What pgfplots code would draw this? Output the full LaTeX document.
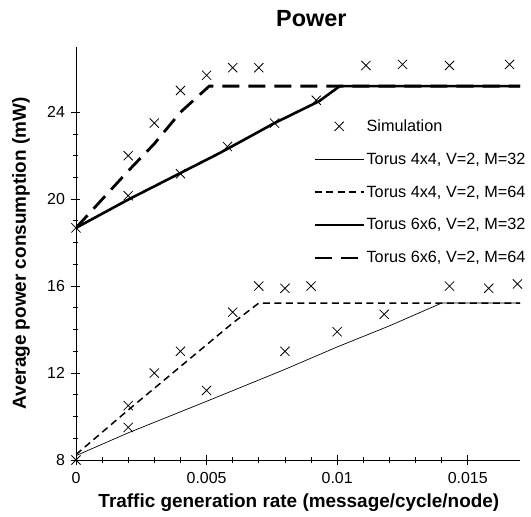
\documentclass[border=0pt]{standalone}
\usepackage{fontspec}
\setmainfont{Liberation Sans}
\usepackage{pgfplots}
\pgfplotsset{compat=1.18}
\begin{document}
\begin{tikzpicture}
\begin{axis}[
  at={(0,0)}, anchor=south west,
  scale only axis, width=444bp, height=413bp,
  xmin=0, xmax=0.017, ymin=8, ymax=27,
  axis lines=left, axis line style={-, line width=0.8bp},
  xtick={0,0.005,0.01,0.015}, xticklabels={0,0.005,0.01,0.015},
  ytick={8,12,16,20,24},
  minor x tick num=4, minor y tick num=3,
  tick align=center, major tick length=9bp, minor tick length=5bp,
  tick style={line width=0.8bp, black},
  /pgf/number format/assume math mode=true,
  ticklabel style={font=\fontsize{16}{19}\selectfont},
  xticklabel style={yshift=-4bp},
  yticklabel style={xshift=-3bp},
  scaled x ticks=false,
  title={Power},
  title style={font=\bfseries\fontsize{23.5}{28}\selectfont, at={(axis description cs:0.53,1.054)}, anchor=center},
  xlabel={Traffic generation rate (message/cycle/node)},
  ylabel={Average power consumption (mW)},
  label style={font=\bfseries\fontsize{19}{22}\selectfont},
  x label style={at={(axis description cs:0.502,-0.104)}, anchor=center},
  y label style={at={(axis description cs:-0.124,0.5)}, anchor=center},
  legend style={draw=none, fill=none, at={(axis description cs:0.534,0.828)}, anchor=north west,
    font=\fontsize{16.3}{19}\selectfont, row sep=17bp, inner sep=0pt, nodes={inner sep=1.5bp}},
  legend cell align=left,
  legend image code/.code={\draw[mark repeat=2,mark phase=2,#1] plot coordinates {(0bp,0bp) (24.5bp,0bp) (49bp,0bp)};},
]
\addplot[only marks, mark=x, mark size=6.5bp, mark options={line width=0.8bp}, black] coordinates {
 (0,18.68) (0.002,20.16) (0.002,22.0) (0.003,23.5) (0.004,25.0) (0.004,21.17)
 (0.005,25.7) (0.0058,22.42) (0.006,26.05) (0.007,26.05) (0.0076,23.5) (0.0092,24.55)
 (0.0111,26.15) (0.0125,26.2) (0.0143,26.15) (0.0166,26.2)
 (0,8.0) (0.002,9.5) (0.002,10.5) (0.003,12.0) (0.004,13.0) (0.005,11.2)
 (0.006,14.8) (0.007,16.0) (0.008,15.9) (0.008,13.0) (0.009,16.0) (0.01,13.9)
 (0.0118,14.7) (0.0143,16.0) (0.0158,15.9) (0.0169,16.1)
};
\addlegendentry{Simulation}
\addplot[black, line width=0.7bp, mark=none] coordinates {
 (0,8.2) (0.002,9.25) (0.005,10.7) (0.008,12.17) (0.010,13.2) (0.012,14.17) (0.014,15.22) (0.017,15.22)
};
\addlegendentry{Torus 4x4, V=2, M=32}
\addplot[black, line width=1.5bp, dash pattern=on 7bp off 4.5bp, mark=none] coordinates {
 (0,8.25) (0.002,10.3) (0.004,12.3) (0.006,14.3) (0.007,15.22) (0.017,15.22)
};
\addlegendentry{Torus 4x4, V=2, M=64}
\addplot[black, line width=2.6bp, mark=none] coordinates {
 (0,18.68) (0.002,19.98) (0.0055,22.12) (0.00666,22.88) (0.0076,23.5) (0.0093,24.5) (0.0101,25.2) (0.017,25.2)
};
\addlegendentry{Torus 6x6, V=2, M=32}
\addplot[black, line width=2.8bp, dash pattern=on 17bp off 9bp, mark=none] coordinates {
 (0,18.68) (0.002,21.3) (0.003,22.55) (0.004,24.0) (0.0051,25.2) (0.017,25.2)
};
\addlegendentry{Torus 6x6, V=2, M=64}
\end{axis}
\pgfresetboundingbox
\path[use as bounding box] (-76bp,-57bp) rectangle (455bp,460bp);
\end{tikzpicture}
\end{document}
